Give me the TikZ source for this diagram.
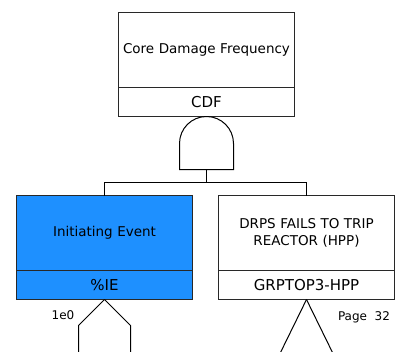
\documentclass[tikz,border=0pt]{standalone}
\usepackage{fontspec}
\setmainfont{DejaVu Sans}
\definecolor{ieblue}{RGB}{30,144,255}
\definecolor{edge}{RGB}{40,40,40}
\begin{document}
\begin{tikzpicture}[x=1bp,y=-1bp,
  box/.style={draw=edge, line width=1bp, inner sep=0pt, outer sep=0pt,
    minimum width=176bp, align=center},
  titlebox/.style={box, minimum height=75bp, text width=170bp,
    font=\fontsize{13.5bp}{17bp}\selectfont},
  idbox/.style={box, minimum height=29bp, font=\fontsize{15bp}{18bp}\selectfont},
  wire/.style={draw=black, line width=1bp},
  note/.style={inner sep=0pt, font=\fontsize{12bp}{14bp}\selectfont}]
\useasboundingbox (0,0) rectangle (395,352);

% top event
\node[titlebox, anchor=north west] (cdfT) at (118.5,12.5) {Core Damage Frequency};
\node[idbox, anchor=north] (cdfI) at (cdfT.south) {CDF};

% AND gate under the top event
\coordinate (gateOut) at (206.5,169.5);
\coordinate (bus) at (206.5,182.5);
\draw[wire] (179.5,169.5) -- (179.5,143.5)
  arc[start angle=180, end angle=0, radius=27bp] -- (233.5,169.5) -- cycle;
\draw[wire] (gateOut) -- (bus);

% inputs
\node[titlebox, anchor=north west, fill=ieblue] (ieT) at (16.5,195.5) {Initiating Event};
\node[idbox, anchor=north, fill=ieblue] (ieI) at (ieT.south) {\%IE};
\node[titlebox, anchor=north west] (hppT) at (218.5,195.5) {DRPS FAILS TO TRIP\\REACTOR (HPP)};
\node[idbox, anchor=north] (hppI) at (hppT.south) {GRPTOP3-HPP};

\draw[wire] (ieT.north) |- (hppT.north |- bus) -- (hppT.north);

% basic-event house and transfer triangle
\draw[wire] (ieI.south) -- ++(-26,26) -- ++(0,28);
\draw[wire] (ieI.south) -- ++(26,26) -- ++(0,28);
\draw[wire] (hppI.south) -- ++(-26,53);
\draw[wire] (hppI.south) -- ++(26,53);

\node[note] (prob) at (63,315.5) {1e0};
\node[note] (page) at (364,317) {Page\ \ 32};
\end{tikzpicture}
\end{document}
